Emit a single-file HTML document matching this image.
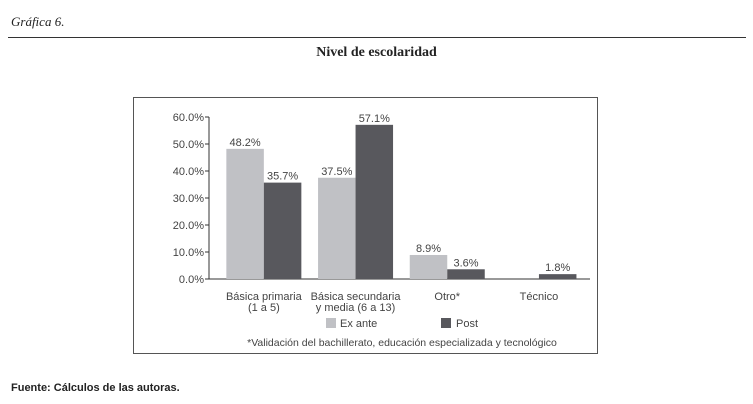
<!DOCTYPE html>
<html><head><meta charset="utf-8"><style>
body{margin:0;width:753px;height:404px;background:#fff;overflow:hidden;position:relative;font-family:"Liberation Sans",sans-serif}
</style></head><body>
<div style="position:absolute;left:11px;top:14px;font-family:'Liberation Serif',serif;font-style:italic;font-size:13px;color:#222">Gráfica 6.</div>
<div style="position:absolute;left:8px;top:37px;width:738px;height:1px;background:#333"></div>
<div style="position:absolute;left:0;width:753px;top:45px;text-align:center;font-family:'Liberation Serif',serif;font-weight:bold;font-size:14px;color:#222">Nivel de escolaridad</div>
<div style="position:absolute;left:11px;top:382px;font-weight:bold;font-size:11px;color:#222">Fuente: Cálculos de las autoras.</div>
<svg width="753" height="404" style="position:absolute;left:0;top:0" font-family="Liberation Sans, sans-serif">
<rect x="133.5" y="97.5" width="464" height="256" fill="none" stroke="#555" stroke-width="1"/>
<g id="g"></g>
</svg>
<script>
const categories=[["Básica primaria","(1 a 5)"],["Básica secundaria","y media (6 a 13)"],["Otro*",""],["Técnico",""]];
const exAnte=[48.2,37.5,8.9,null];
const post=[35.7,57.1,3.6,1.8];
const yTicks=[0,10,20,30,40,50,60];
const g=document.getElementById('g');const NS='http://www.w3.org/2000/svg';
const y0=279,ppu=2.7,xStart=218,band=91.7,bw=37.5,axL=209,axR=590;
const y=v=>y0-v*ppu;const cx=i=>xStart+band*(i+0.5);
function mk(t,a,txt){const e=document.createElementNS(NS,t);for(const k in a)e.setAttribute(k,a[k]);if(txt!==undefined)e.textContent=txt;g.appendChild(e);return e;}
let ax=mk('line',{x1:axL,x2:axL,y1:y(60),y2:y0,stroke:'#333'});


let bx=mk('line',{x1:axL-4,x2:axR,y1:y0,y2:y0,stroke:'#333'});


yTicks.forEach(v=>{
 let t=mk('line',{x1:axL-4,x2:axL,y1:y(v),y2:y(v),stroke:'#333'});
 
 
 let l=mk('text',{x:axL-5,y:y(v)+4,'text-anchor':'end','font-size':11,fill:'#444'},v.toFixed(1)+'%');
 
 
});
function bar(i,v,off,col,name){
 if(v==null)return;
 let r=mk('rect',{x:cx(i)+off,y:y(v),width:bw,height:v*ppu,fill:col});
 
 
 let l=mk('text',{x:cx(i)+off+bw/2,y:y(v)-3,'text-anchor':'middle','font-size':11,fill:'#444'},v.toFixed(1)+'%');
 
 
}
categories.forEach((c,i)=>{
 bar(i,exAnte[i],-bw,'#c0c1c5','bar-ex-ante');
 bar(i,post[i],0,'#58585d','bar-post');
 c.forEach((s,k)=>{if(!s)return;
  let l=mk('text',{x:cx(i),y:300+k*11,'text-anchor':'middle','font-size':11,fill:'#444'},s);
  
  });
});
let s1=mk('rect',{x:326,y:318,width:10,height:10,fill:'#c0c1c5'});


let t1=mk('text',{x:340,y:327,'font-size':11,fill:'#444'},'Ex ante');


let s2=mk('rect',{x:441,y:318,width:10,height:10,fill:'#58585d'});


let t2=mk('text',{x:456,y:327,'font-size':11,fill:'#444'},'Post');


let fn=mk('text',{x:402,y:346,'text-anchor':'middle','font-size':10.5,fill:'#444'},'*Validación del bachillerato, educación especializada y tecnológico');


</script>
</body></html>
